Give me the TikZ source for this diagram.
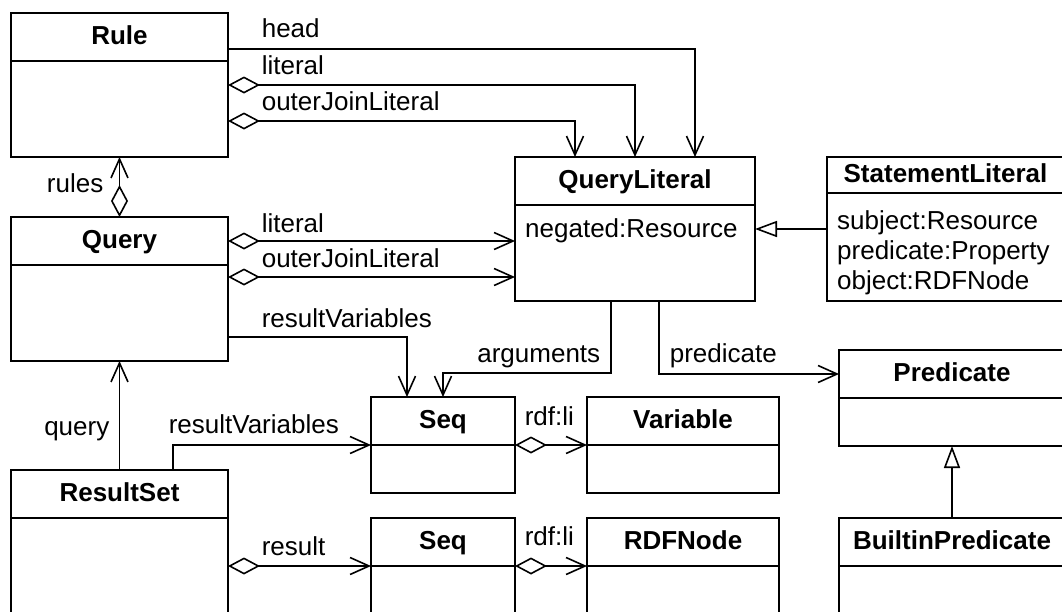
\documentclass[tikz,border=0pt]{standalone}
\usepackage{fontspec}
\setmainfont{Liberation Sans}
\usetikzlibrary{arrows.meta, positioning}

\begin{document}
\begin{tikzpicture}[
    x=1pt, y=-1pt,
    font=\fontsize{26}{30}\selectfont,
    clshead/.style={draw, line width=2pt, anchor=north west, outer sep=0pt,
      minimum height=48pt, text height=19.5pt, text depth=5pt,
      font=\fontsize{26}{30}\selectfont\bfseries},
    clsbody/.style={draw, line width=2pt, outer sep=0pt},
    attr/.style={anchor=north west, align=left, inner sep=0pt},
    lbl/.style={anchor=base west, inner sep=0pt},
    rolelbl/.style={lbl, xshift=33pt, yshift=11pt},
    assoc/.style={-{Straight Barb[length=19pt, width=17pt]}, line width=1.6pt},
    aggr/.style={{Diamond[open, length=32pt, width=17pt]}-{Straight Barb[length=19pt, width=17pt]}, line width=1.6pt},
    gen/.style={-{Triangle[open, length=22pt, width=16pt]}, line width=1.6pt}
  ]
  \useasboundingbox (0,0) rectangle (1062,611);
  \clip (0,0) rectangle (1062,611);

  % classes, left column
  \node[clshead, minimum width=217pt] (rule) at (11,13) {Rule};
  \node[clsbody, minimum width=217pt, minimum height=96pt, below=0pt of rule] (rulebody) {};
  \node[clshead, minimum width=217pt] (query) at (11,217) {Query};
  \node[clsbody, minimum width=217pt, minimum height=96pt, below=0pt of query] (querybody) {};
  \node[clshead, minimum width=217pt] (resultset) at (11,470) {ResultSet};
  \node[clsbody, minimum width=217pt, minimum height=130pt, below=0pt of resultset] (resultsetbody) {};

  % literals
  \node[clshead, minimum width=240pt] (qlit) at (515,157) {QueryLiteral};
  \node[clsbody, minimum width=240pt, minimum height=96pt, below=0pt of qlit] (qlitbody) {};
  \node[attr] (qlitattr) at ([xshift=10pt, yshift=-13pt]qlitbody.north west) {negated:Resource};
  \node[clshead, minimum width=237pt, minimum height=36pt] (stmt) at (827,157) {StatementLiteral};
  \node[clsbody, minimum width=237pt, minimum height=108pt, below=0pt of stmt] (stmtbody) {};
  \node[attr] (stmtattr) at ([xshift=10pt, yshift=-17pt]stmtbody.north west) {subject:Resource\\predicate:Property\\object:RDFNode};

  % sequences
  \node[clshead, minimum width=144pt] (seqvar) at (371,397) {Seq};
  \node[clsbody, minimum width=144pt, minimum height=48pt, below=0pt of seqvar] (seqvarbody) {};
  \node[clshead, minimum width=192pt] (variable) at (587,397) {Variable};
  \node[clsbody, minimum width=192pt, minimum height=48pt, below=0pt of variable] (variablebody) {};
  \node[clshead, minimum width=144pt] (seqres) at (371,518) {Seq};
  \node[clsbody, minimum width=144pt, minimum height=100pt, below=0pt of seqres] (seqresbody) {};
  \node[clshead, minimum width=192pt] (rdfnode) at (587,518) {RDFNode};
  \node[clsbody, minimum width=192pt, minimum height=100pt, below=0pt of rdfnode] (rdfnodebody) {};

  % predicates
  \node[clshead, minimum width=226pt] (pred) at (839,350) {Predicate};
  \node[clsbody, minimum width=226pt, minimum height=48pt, below=0pt of pred] (predbody) {};
  \node[clshead, minimum width=226pt] (builtin) at (839,518) {BuiltinPredicate};
  \node[clsbody, minimum width=226pt, minimum height=100pt, below=0pt of builtin] (builtinbody) {};

  % Rule -> QueryLiteral
  \draw[assoc] ([yshift=-12pt]rule.east) node[rolelbl, yshift=1pt] {head} -| ([xshift=180pt]qlit.north west);
  \draw[aggr] ([yshift=24pt]rulebody.east) node[rolelbl] {literal} -| ([xshift=120pt]qlit.north west);
  \draw[aggr] ([yshift=-12pt]rulebody.east) node[rolelbl] {outerJoinLiteral} -| ([xshift=60pt]qlit.north west);

  % Query
  \draw[aggr] (query.north) -- (rulebody.south);
  \node[lbl, anchor=base east] (lblrules) at ([xshift=-16pt, yshift=-35pt]rulebody.south) {rules};
  \draw[aggr] (query.east) node[rolelbl, yshift=-2pt] {literal} -- ([yshift=12pt]qlitbody.west);
  \draw[aggr] ([yshift=36pt]querybody.east) node[rolelbl, yshift=-1pt] {outerJoinLiteral} -- ([yshift=-24pt]qlitbody.west);
  \draw[assoc] ([yshift=-24pt]querybody.east) node[rolelbl, yshift=-1pt] {resultVariables} -| ([xshift=36pt]seqvar.north west);

  % ResultSet
  \draw[assoc] (resultset.north) -- (querybody.south);
  \node[lbl, anchor=base east] (lblquery) at ([xshift=-10pt, yshift=35pt]resultset.north) {query};
  \draw[assoc] ([xshift=162pt]resultset.north west) |- (seqvar.south west)
    node[lbl, pos=0.5, xshift=-5pt, yshift=12pt] {resultVariables};
  \draw[aggr] (resultset.east |- seqres.south west) node[rolelbl] {result} -- (seqres.south west);

  % Seq -> elements
  \draw[aggr] (seqvar.south east) node[lbl, xshift=9pt, yshift=20pt] {rdf:li} -- (variable.south west);
  \draw[aggr] (seqres.south east) node[lbl, xshift=9pt, yshift=21pt] {rdf:li} -- (rdfnode.south west);

  % QueryLiteral -> Seq, Predicate
  \draw[assoc] ([xshift=96pt]qlitbody.south west) |- ([xshift=72pt, yshift=24pt]seqvar.north west)
    node[lbl, anchor=base east, pos=0.5, xshift=-10pt, yshift=11pt] {arguments}
    -- ([xshift=72pt]seqvar.north west);
  \draw[assoc] ([xshift=144pt]qlitbody.south west) |- (pred.west)
    node[lbl, pos=0.5, xshift=10pt, yshift=12pt] {predicate};

  % generalisation
  \draw[gen] ([yshift=18pt]stmtbody.west) -- ([yshift=24pt]qlitbody.east);
  \draw[gen] (builtin.north) -- (predbody.south);
\end{tikzpicture}
\end{document}
